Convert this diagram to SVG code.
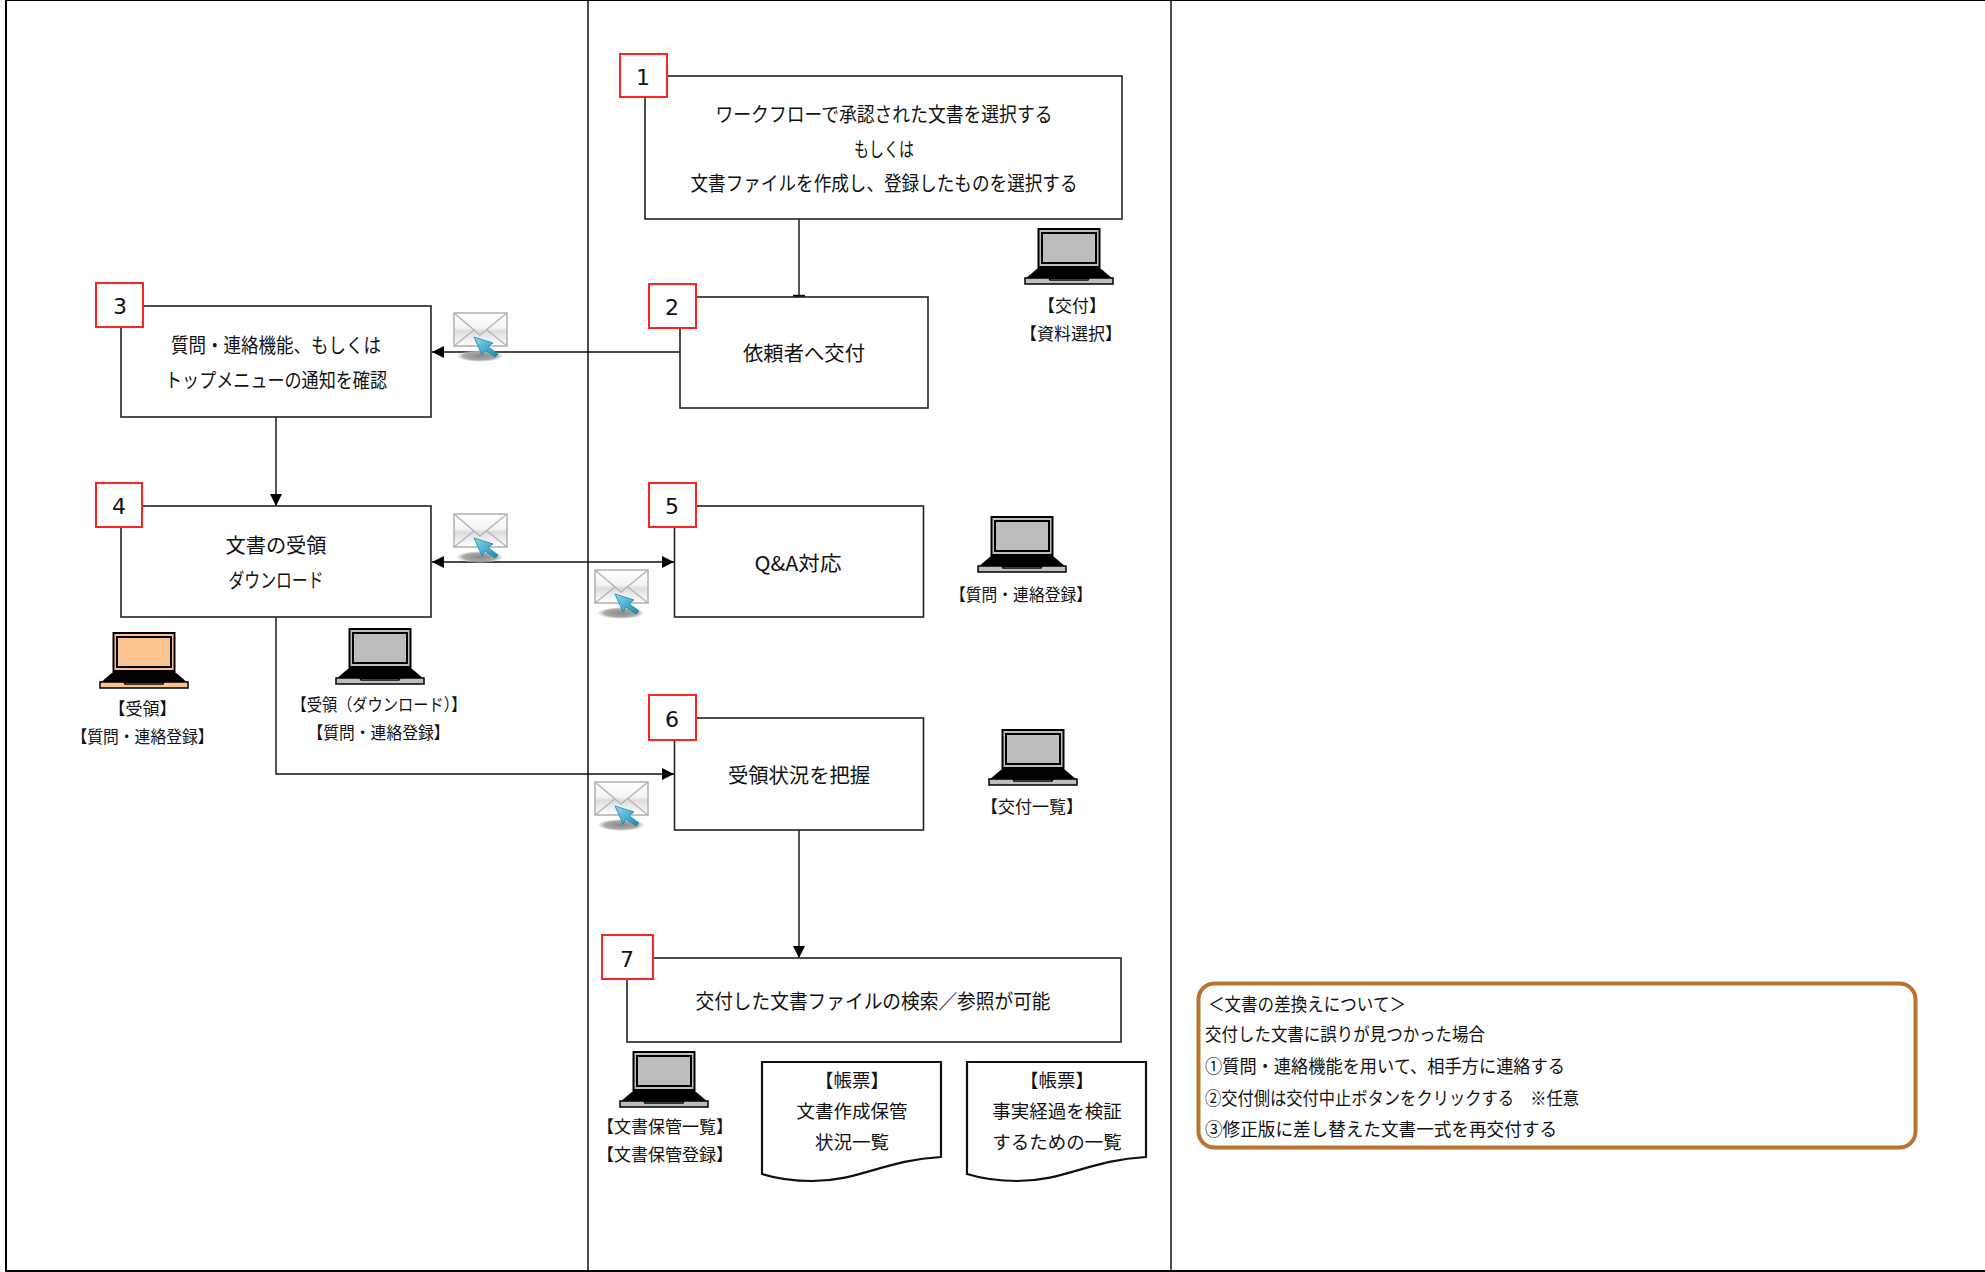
<svg xmlns="http://www.w3.org/2000/svg" width="1985" height="1272" viewBox="0 0 1985 1272">
<style>
text{font-family:"Noto Sans CJK JP","Liberation Sans",sans-serif;fill:#111;text-anchor:middle}
.m{font-size:20px}
.d{font-size:18.5px}
.s{font-size:17px}
.n{font-size:18.5px;text-anchor:start}
.num{font-family:"DejaVu Sans",sans-serif;font-size:22px}
.box{fill:#fff;stroke:#222;stroke-width:1.6}
.doc{fill:#fff;stroke:#111;stroke-width:2.2}
.badge{fill:#fff;stroke:#f22;stroke-width:2}
.frame{fill:none;stroke:#000;stroke-width:2}
.lane{fill:none;stroke:#000;stroke-width:1.4}
.c{fill:none;stroke:#111;stroke-width:1.4}
</style>
<defs>
<marker id="ah" markerUnits="userSpaceOnUse" markerWidth="14" markerHeight="12" refX="12" refY="6" orient="auto-start-reverse"><path d="M0 0L12 6L0 12z" fill="#000"/></marker>
<linearGradient id="env" x1="0" y1="0" x2="0" y2="1"><stop offset="0" stop-color="#fff"/><stop offset=".45" stop-color="#f4f4f4"/><stop offset=".55" stop-color="#dcdcdc"/><stop offset="1" stop-color="#fff"/></linearGradient>
<linearGradient id="cur" x1="0" y1="0" x2="1" y2="1"><stop offset="0" stop-color="#8fd6ee"/><stop offset="1" stop-color="#1488ad"/></linearGradient>
<radialGradient id="sh"><stop offset="0" stop-color="#888"/><stop offset=".7" stop-color="#aaa"/><stop offset="1" stop-color="#ccc" stop-opacity="0"/></radialGradient>
<symbol id="mail" viewBox="0 0 56 52" overflow="visible">
<ellipse cx="27" cy="44" rx="24" ry="6" fill="url(#sh)"/>
<rect x="1" y="1" width="53" height="33" fill="url(#env)" stroke="#b5b5b5" stroke-width="1.6"/>
<path d="M1 1L27 23L54 1M1 34L21 18M54 34L34 18" fill="none" stroke="#b5b5b5" stroke-width="1.4"/>
<path d="M21 25L40 31L35 34.500L45 42L42 45L32 38L29 43z" fill="url(#cur)" stroke="#1488ad" stroke-width=".8"/>
</symbol>
<symbol id="laptop" viewBox="0 0 90 58" overflow="visible">
<rect x="14.500" y="1" width="61" height="38" fill="inherit" stroke="#000" stroke-width="2"/>
<rect x="18" y="5" width="54" height="30" fill="inherit" stroke="#000" stroke-width="2"/>
<path d="M14 40H76L89 51H1z" fill="#000"/>
<path d="M1 50H25L26 52H64L65 50H89V56H1z" fill="inherit" stroke="#000" stroke-width="1.500"/>
</symbol>
</defs>
<g id="frame">
<path d="M6 0H1985" stroke="#000" stroke-width="2" fill="none"/>
<path class="frame" d="M6 0V1271H1985"/>
<path class="lane" d="M588 0V1271M1171 0V1271"/>
</g>
<g id="connectors">
<path class="c" d="M799 219V295"/>
<path d="M793 296H805" stroke="#111" stroke-width="2.500"/>
<path class="c" d="M680 352H432" marker-end="url(#ah)"/>
<path class="c" d="M276 417V506" marker-end="url(#ah)"/>
<path class="c" d="M432 562H674" marker-start="url(#ah)" marker-end="url(#ah)"/>
<path class="c" d="M276 617V774H674" marker-end="url(#ah)"/>
<path class="c" d="M799 830V958" marker-end="url(#ah)"/>
</g>
<g id="node1"><rect class="box" x="645" y="76" width="477" height="143"/>
<text class="m" x="884" y="122" textLength="337" lengthAdjust="spacingAndGlyphs">ワークフローで承認された文書を選択する</text>
<text class="m" x="884" y="157" textLength="60" lengthAdjust="spacingAndGlyphs">もしくは</text>
<text class="m" x="884" y="191" textLength="387" lengthAdjust="spacingAndGlyphs">文書ファイルを作成し、登録したものを選択する</text>
<rect class="badge" x="620" y="54" width="47" height="43"/><text class="num" x="643" y="85">1</text></g>
<g id="node2"><rect class="box" x="680" y="297" width="248" height="111"/>
<text class="m" x="804" y="361" textLength="122" lengthAdjust="spacingAndGlyphs">依頼者へ交付</text>
<rect class="badge" x="649" y="284" width="47" height="44"/><text class="num" x="672" y="315">2</text></g>
<g id="node3"><rect class="box" x="121" y="306" width="310" height="111"/>
<text class="m" x="276" y="353" textLength="210" lengthAdjust="spacingAndGlyphs">質問・連絡機能、もしくは</text>
<text class="m" x="276" y="388" textLength="222" lengthAdjust="spacingAndGlyphs">トップメニューの通知を確認</text>
<rect class="badge" x="96" y="283" width="47" height="44"/><text class="num" x="120" y="314">3</text></g>
<g id="node4"><rect class="box" x="121" y="506" width="310" height="111"/>
<text class="m" x="276" y="553" textLength="101" lengthAdjust="spacingAndGlyphs">文書の受領</text>
<text class="m" x="276" y="588" textLength="95" lengthAdjust="spacingAndGlyphs">ダウンロード</text>
<rect class="badge" x="96" y="483" width="46" height="44"/><text class="num" x="119" y="514">4</text></g>
<g id="node5"><rect class="box" x="674.500" y="506" width="249" height="111"/>
<text class="m" x="798" y="571" textLength="87" lengthAdjust="spacingAndGlyphs">Q&amp;A対応</text>
<rect class="badge" x="649" y="483" width="47" height="44"/><text class="num" x="672" y="514">5</text></g>
<g id="node6"><rect class="box" x="674.500" y="718" width="249" height="112"/>
<text class="m" x="799" y="783" textLength="142" lengthAdjust="spacingAndGlyphs">受領状況を把握</text>
<rect class="badge" x="649" y="695" width="47" height="45"/><text class="num" x="672" y="727">6</text></g>
<g id="node7"><rect class="box" x="627" y="958" width="494" height="84"/>
<text class="m" x="873" y="1009" textLength="355" lengthAdjust="spacingAndGlyphs">交付した文書ファイルの検索／参照が可能</text>
<rect class="badge" x="602" y="935" width="51" height="44"/><text class="num" x="627" y="967">7</text></g>
<g id="mails">
<use href="#mail" x="453" y="312" width="56" height="52"/>
<use href="#mail" x="453" y="513" width="56" height="52"/>
<use href="#mail" x="594" y="569" width="56" height="52"/>
<use href="#mail" x="594" y="781" width="56" height="52"/>
</g>
<g id="laptop-kofu"><use href="#laptop" x="1024" y="228" width="90" height="58" fill="#bdbdbd"/>
<text class="s" x="1072" y="312">【交付】</text><text class="s" x="1071" y="340">【資料選択】</text></g>
<g id="laptop-qa"><use href="#laptop" x="977" y="516" width="90" height="58" fill="#bdbdbd"/>
<text class="s" x="1021" y="601" textLength="142" lengthAdjust="spacingAndGlyphs">【質問・連絡登録】</text></g>
<g id="laptop-ichiran"><use href="#laptop" x="988" y="729" width="90" height="58" fill="#bdbdbd"/>
<text class="s" x="1032" y="813">【交付一覧】</text></g>
<g id="laptop-receive"><use href="#laptop" x="99" y="632" width="90" height="58" fill="#fbc38f"/>
<text class="s" x="142.500" y="715">【受領】</text>
<text class="s" x="142.500" y="743" textLength="142" lengthAdjust="spacingAndGlyphs">【質問・連絡登録】</text></g>
<g id="laptop-download"><use href="#laptop" x="335" y="628" width="90" height="58" fill="#bdbdbd"/>
<text class="s" x="379" y="711" textLength="175" lengthAdjust="spacingAndGlyphs">【受領（ダウンロード）】</text>
<text class="s" x="378.500" y="739" textLength="142" lengthAdjust="spacingAndGlyphs">【質問・連絡登録】</text></g>
<g id="laptop-hokan"><use href="#laptop" x="619" y="1051" width="90" height="58" fill="#bdbdbd"/>
<text class="s" x="665" y="1133">【文書保管一覧】</text><text class="s" x="665" y="1161">【文書保管登録】</text></g>
<g id="doc1"><path class="doc" d="M762 1062H941V1157C885 1160 860 1181 812 1181C790 1181 775 1178 762 1174z"/>
<text class="d" x="852" y="1087">【帳票】</text><text class="d" x="852" y="1118">文書作成保管</text><text class="d" x="852" y="1149">状況一覧</text></g>
<g id="doc2"><path class="doc" d="M967 1062H1146V1157C1090 1160 1065 1181 1017 1181C995 1181 980 1178 967 1174z"/>
<text class="d" x="1057" y="1087">【帳票】</text><text class="d" x="1057" y="1118">事実経過を検証</text><text class="d" x="1057" y="1149">するための一覧</text></g>
<g id="note"><rect x="1198.500" y="983.500" width="717" height="164" rx="16" fill="#fff" stroke="#b87333" stroke-width="4"/>
<text class="n" x="1208" y="1011" textLength="198" lengthAdjust="spacingAndGlyphs">＜文書の差換えについて＞</text>
<text class="n" x="1205" y="1041" textLength="280" lengthAdjust="spacingAndGlyphs">交付した文書に誤りが見つかった場合</text>
<text class="n" x="1205" y="1073" textLength="360" lengthAdjust="spacingAndGlyphs">①質問・連絡機能を用いて、相手方に連絡する</text>
<text class="n" x="1205" y="1105" textLength="374" lengthAdjust="spacingAndGlyphs">②交付側は交付中止ボタンをクリックする　※任意</text>
<text class="n" x="1205" y="1136" textLength="352" lengthAdjust="spacingAndGlyphs">③修正版に差し替えた文書一式を再交付する</text></g>
</svg>
